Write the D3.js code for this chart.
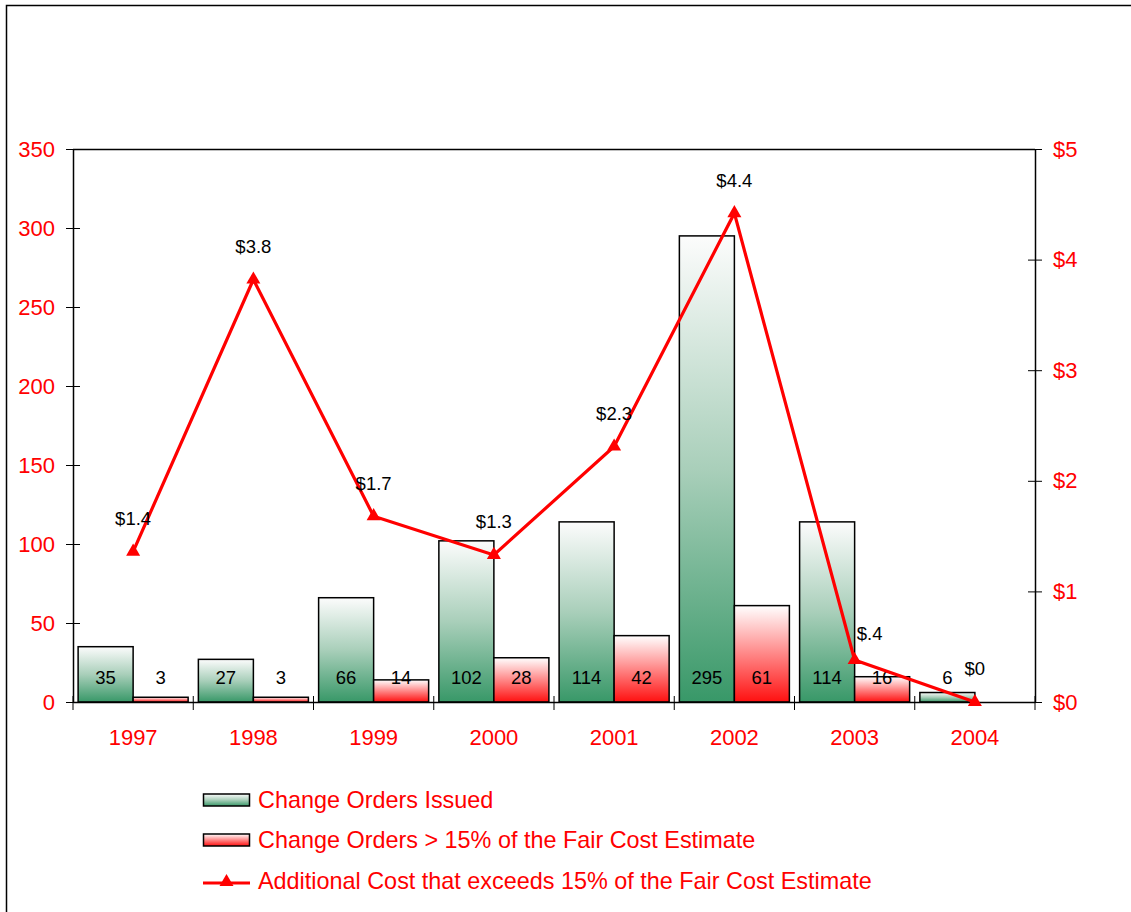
<!DOCTYPE html>
<html>
<head>
<meta charset="utf-8">
<script src="https://cdn.jsdelivr.net/npm/d3@7"></script>
<style>
  html, body { margin: 0; padding: 0; background: #fff; }
  svg { display: block; font-family: "Liberation Sans", Arial, sans-serif; }
</style>
</head>
<body>
<svg id="chart" width="1131" height="912"></svg>
<script>
// ---- data ----
const years = ["1997", "1998", "1999", "2000", "2001", "2002", "2003", "2004"];
const issued = [35, 27, 66, 102, 114, 295, 114, 6];
const over15 = [3, 3, 14, 28, 42, 61, 16, 0];
const addCost = [1.36, 3.82, 1.68, 1.33, 2.31, 4.42, 0.38, 0];
const addCostLabels = ["$1.4", "$3.8", "$1.7", "$1.3", "$2.3", "$4.4", "$.4", "$0"];
const leftTicks = [0, 50, 100, 150, 200, 250, 300, 350];
const rightTicks = [0, 1, 2, 3, 4, 5];
const rightTickLabels = ["$0", "$1", "$2", "$3", "$4", "$5"];
const legendLabels = [
  "Change Orders Issued",
  "Change Orders > 15% of the Fair Cost Estimate",
  "Additional Cost that exceeds 15% of the Fair Cost Estimate"
];

// ---- layout ----
const svg = d3.select("#chart");
const plot = { left: 73, right: 1035, top: 149, bottom: 702 };
const RED = "#ff0000";

// outer frame
svg.append("path")
  .attr("d", "M6.5,1000 L6.5,5.5 L1200,5.5")
  .attr("fill", "none").attr("stroke", "#000").attr("stroke-width", 1.5);

// gradients
const defs = svg.append("defs");
const gG = defs.append("linearGradient").attr("id", "gGreen").attr("x1", 0).attr("y1", 0).attr("x2", 0).attr("y2", 1);
gG.append("stop").attr("offset", "0%").attr("stop-color", "#fcfcfc");
gG.append("stop").attr("offset", "50%").attr("stop-color", "#a9cfba");
gG.append("stop").attr("offset", "100%").attr("stop-color", "#389868");
const gR = defs.append("linearGradient").attr("id", "gRed").attr("x1", 0).attr("y1", 0).attr("x2", 0).attr("y2", 1);
gR.append("stop").attr("offset", "0%").attr("stop-color", "#ffffff");
gR.append("stop").attr("offset", "100%").attr("stop-color", "#ff1010");

// scales
const x = d3.scaleBand().domain(years).range([plot.left, plot.right]).paddingInner(0).paddingOuter(0);
const inner = d3.scaleBand().domain(["issued", "over"]).range([0, x.bandwidth()]).paddingInner(0).paddingOuter(0.093);
const yL = d3.scaleLinear().domain([0, 350]).range([plot.bottom, plot.top]);
const yR = d3.scaleLinear().domain([0, 5]).range([plot.bottom, plot.top]);

// plot border (top)
svg.append("line")
  .attr("x1", plot.left).attr("x2", plot.right)
  .attr("y1", plot.top + 0.5).attr("y2", plot.top + 0.5)
  .attr("stroke", "#000").attr("stroke-width", 1.3);

// bars
const groups = svg.append("g").selectAll("g").data(years).join("g")
  .attr("transform", d => `translate(${x(d)},0)`);

groups.append("rect")
  .attr("x", inner("issued"))
  .attr("width", inner.bandwidth())
  .attr("y", (d, i) => yL(issued[i]))
  .attr("height", (d, i) => yL(0) - yL(issued[i]))
  .attr("fill", "url(#gGreen)")
  .attr("stroke", "#000").attr("stroke-width", 1.5);

groups.append("rect")
  .attr("x", inner("over"))
  .attr("width", inner.bandwidth())
  .attr("y", (d, i) => yL(over15[i]))
  .attr("height", (d, i) => yL(0) - yL(over15[i]))
  .attr("fill", "url(#gRed)")
  .attr("stroke", (d, i) => over15[i] > 0 ? "#000" : "none").attr("stroke-width", 1.5);

// bar value labels (inside base)
groups.append("text")
  .attr("x", inner("issued") + inner.bandwidth() / 2)
  .attr("y", yL(0) - 18)
  .attr("text-anchor", "middle")
  .attr("font-size", 18.5).attr("fill", "#000")
  .text((d, i) => issued[i]);
groups.append("text")
  .attr("x", inner("over") + inner.bandwidth() / 2)
  .attr("y", yL(0) - 18)
  .attr("text-anchor", "middle")
  .attr("font-size", 18.5).attr("fill", "#000")
  .text((d, i) => over15[i] > 0 ? over15[i] : "");

// axes
const axL = svg.append("g").attr("transform", `translate(${plot.left},0)`)
  .call(d3.axisLeft(yL).tickValues(leftTicks).tickSize(7).tickPadding(11).tickSizeOuter(0));
const axR = svg.append("g").attr("transform", `translate(${plot.right},0)`)
  .call(d3.axisRight(yR).tickValues(rightTicks).tickSize(7).tickPadding(11).tickSizeOuter(0)
    .tickFormat((d, i) => rightTickLabels[i]));
const bounds = years.map(y => x(y)).concat([plot.right]);
const axB = svg.append("g").attr("transform", `translate(0,${plot.bottom})`)
  .call(d3.axisBottom(x).tickSize(0).tickPadding(35));

// cross ticks
axL.selectAll(".tick line").attr("x1", -7).attr("x2", 7);
axR.selectAll(".tick line").attr("x1", -7).attr("x2", 7);
[axL, axR, axB].forEach(a => {
  a.select(".domain").attr("stroke", "#000").attr("stroke-width", 1.5);
  a.selectAll(".tick line").attr("stroke", "#000").attr("stroke-width", 1);
  a.selectAll("text").attr("fill", RED).attr("font-size", 22)
    .attr("font-family", "'Liberation Sans', Arial, sans-serif");
});
axB.selectAll("text").attr("dy", "0.35em");
svg.append("g").selectAll("line").data(bounds).join("line")
  .attr("x1", d => d).attr("x2", d => d)
  .attr("y1", plot.bottom - 6).attr("y2", plot.bottom + 8)
  .attr("stroke", "#000").attr("stroke-width", 1);

// cost line
const cx = i => x(years[i]) + x.bandwidth() / 2;
const line = d3.line().x((d, i) => cx(i)).y(d => yR(d));
svg.append("path").datum(addCost)
  .attr("d", line).attr("fill", "none")
  .attr("stroke", RED).attr("stroke-width", 3.2).attr("stroke-linejoin", "miter");
const tri = d3.symbol().type(d3.symbolTriangle).size(85);
svg.append("g").selectAll("path").data(addCost).join("path")
  .attr("d", tri)
  .attr("transform", (d, i) => `translate(${cx(i)},${yR(d)})`)
  .attr("fill", RED);

// cost labels
svg.append("g").selectAll("text").data(addCost).join("text")
  .attr("x", (d, i) => cx(i) + (addCostLabels[i] === "$.4" ? 15 : 0))
  .attr("y", (d, i) => yR(d) - (addCostLabels[i] === "$.4" ? 26 : 33))
  .attr("dy", "0.35em")
  .attr("text-anchor", "middle")
  .attr("font-size", 18.5).attr("fill", "#000")
  .text((d, i) => addCostLabels[i]);

// legend
const legY = [800, 840, 881];
const leg = svg.append("g");
const fills = ["url(#gGreen)", "url(#gRed)"];
[0, 1].forEach(k => {
  leg.append("rect").attr("x", 203.5).attr("y", legY[k] - 6).attr("width", 46).attr("height", 12)
    .attr("fill", fills[k]).attr("stroke", "#000").attr("stroke-width", 1.5);
});
leg.append("line").attr("x1", 203).attr("x2", 250).attr("y1", legY[2] + 2).attr("y2", legY[2] + 2)
  .attr("stroke", RED).attr("stroke-width", 3.2);
leg.append("path").attr("d", tri).attr("transform", `translate(226.5,${legY[2] + 1})`).attr("fill", RED);
legendLabels.forEach((t, k) => {
  leg.append("text").attr("x", 258).attr("y", legY[k]).attr("dy", "0.35em")
    .attr("font-size", 23.4).attr("fill", RED).text(t);
});
</script>
</body>
</html>
